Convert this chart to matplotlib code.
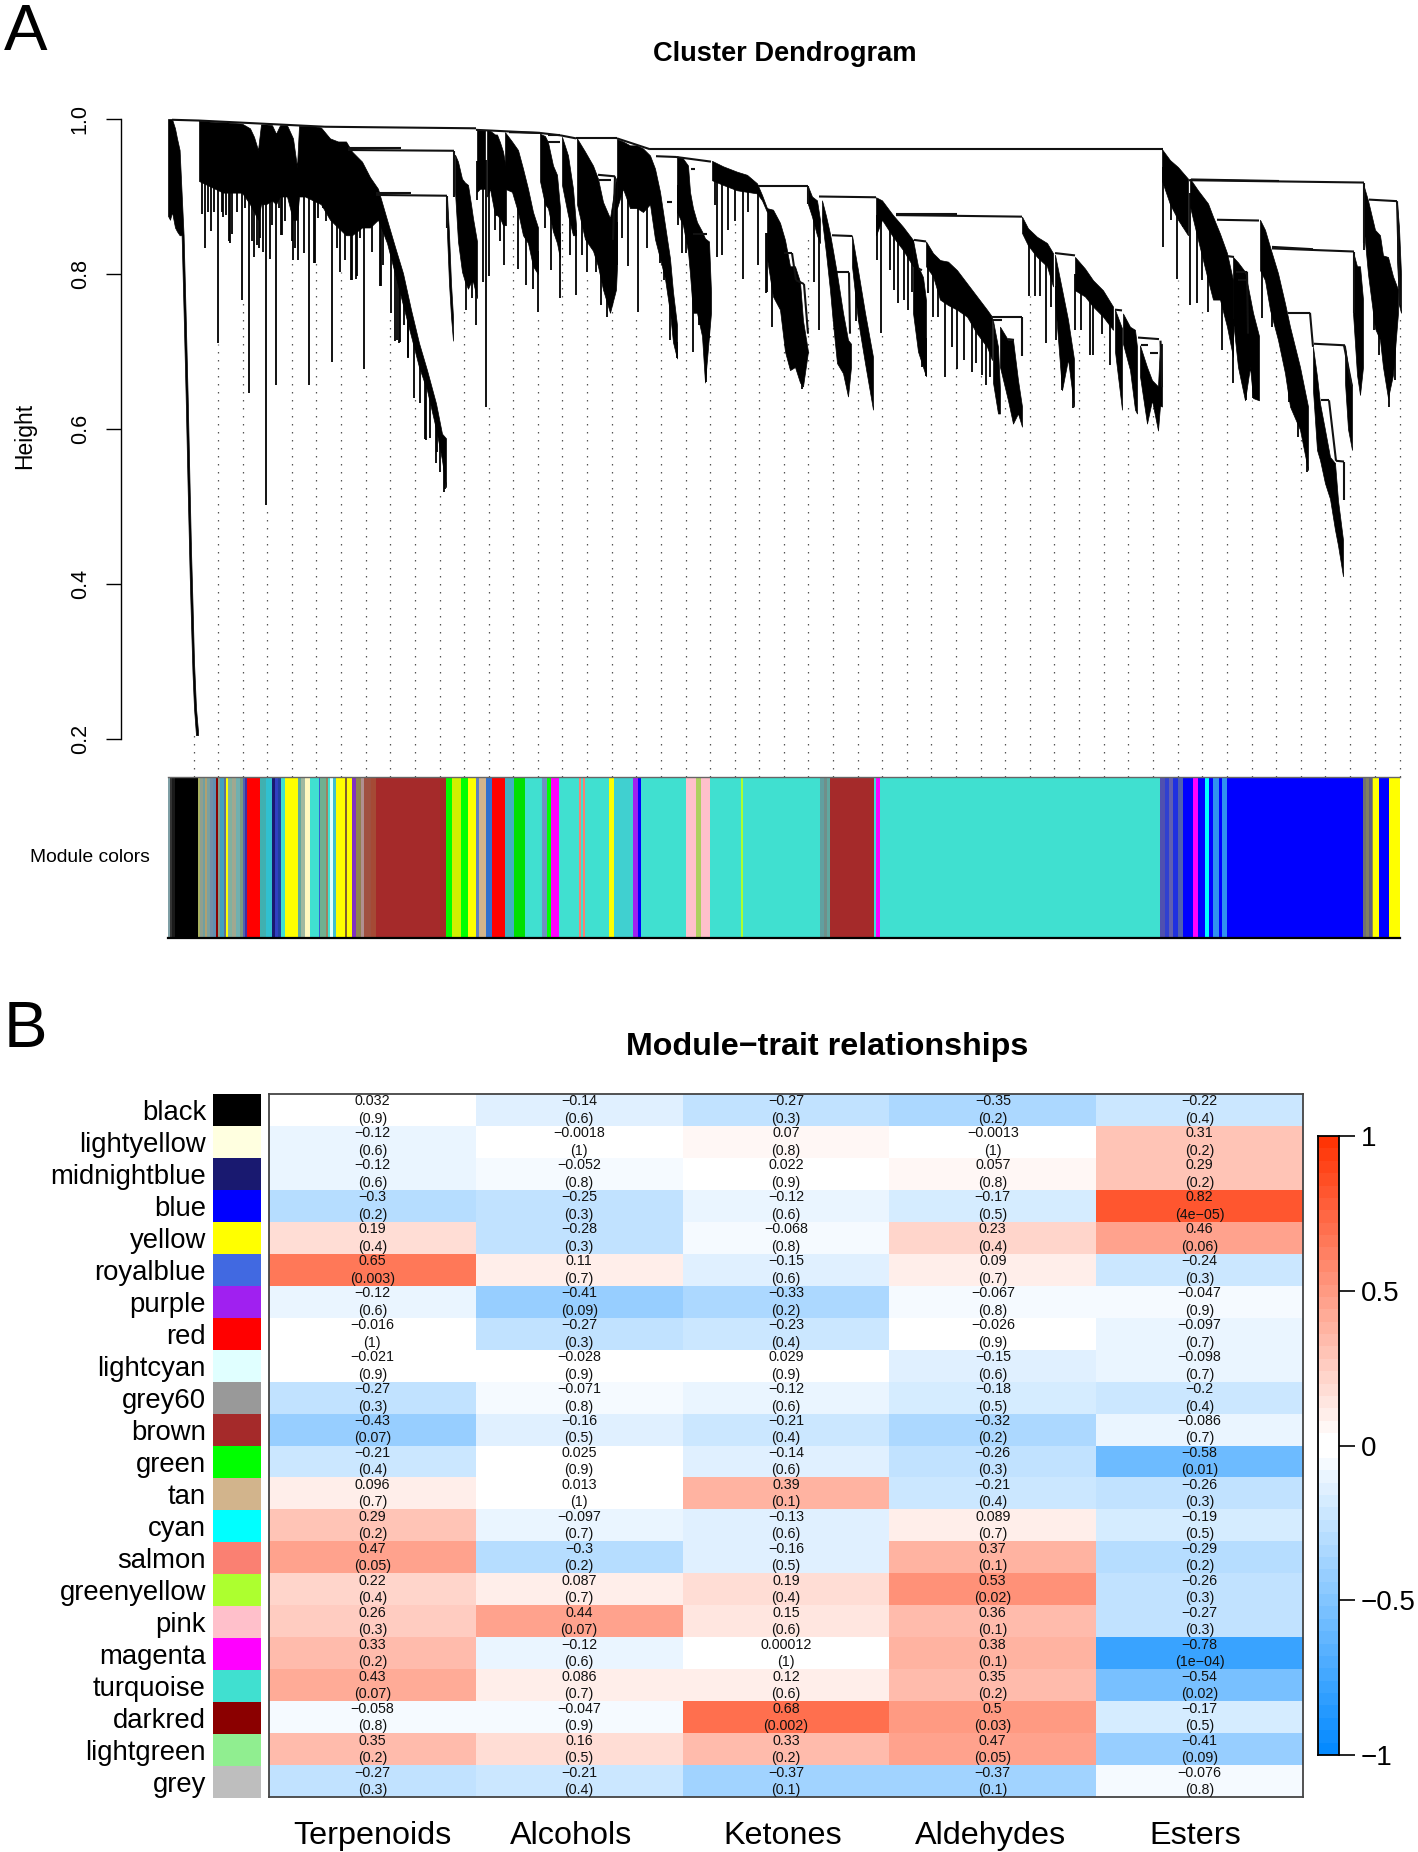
import numpy as np
import matplotlib
matplotlib.use("Agg")
import matplotlib.pyplot as plt
from matplotlib.colors import ListedColormap, BoundaryNorm

plt.rcParams['font.family'] = ['Liberation Sans', 'DejaVu Sans']

W, H = 1418, 1852

# ---------- DATA: heat map ----------
modules = ['black', 'lightyellow', 'midnightblue', 'blue', 'yellow', 'royalblue', 'purple', 'red',
           'lightcyan', 'grey60', 'brown', 'green', 'tan', 'cyan', 'salmon', 'greenyellow', 'pink',
           'magenta', 'turquoise', 'darkred', 'lightgreen', 'grey']
module_hex = ['#000000', '#FFFFE0', '#191970', '#0000FF', '#FFFF00', '#4169E1', '#A020F0', '#FF0000',
              '#E0FFFF', '#999999', '#A52A2A', '#00FF00', '#D2B48C', '#00FFFF', '#FA8072', '#ADFF2F',
              '#FFC0CB', '#FF00FF', '#40E0D0', '#8B0000', '#90EE90', '#BEBEBE']
traits = ['Terpenoids', 'Alcohols', 'Ketones', 'Aldehydes', 'Esters']
trait_label_pos = [0.5, 1.46, 2.485, 3.49, 4.48]

terpenoids_r = ['0.032', '-0.12', '-0.12', '-0.3', '0.19', '0.65', '-0.12', '-0.016', '-0.021', '-0.27', '-0.43',
                '-0.21', '0.096', '0.29', '0.47', '0.22', '0.26', '0.33', '0.43', '-0.058', '0.35', '-0.27']
terpenoids_p = ['0.9', '0.6', '0.6', '0.2', '0.4', '0.003', '0.6', '1', '0.9', '0.3', '0.07',
                '0.4', '0.7', '0.2', '0.05', '0.4', '0.3', '0.2', '0.07', '0.8', '0.2', '0.3']
alcohols_r = ['-0.14', '-0.0018', '-0.052', '-0.25', '-0.28', '0.11', '-0.41', '-0.27', '-0.028', '-0.071', '-0.16',
              '0.025', '0.013', '-0.097', '-0.3', '0.087', '0.44', '-0.12', '0.086', '-0.047', '0.16', '-0.21']
alcohols_p = ['0.6', '1', '0.8', '0.3', '0.3', '0.7', '0.09', '0.3', '0.9', '0.8', '0.5',
              '0.9', '1', '0.7', '0.2', '0.7', '0.07', '0.6', '0.7', '0.9', '0.5', '0.4']
ketones_r = ['-0.27', '0.07', '0.022', '-0.12', '-0.068', '-0.15', '-0.33', '-0.23', '0.029', '-0.12', '-0.21',
             '-0.14', '0.39', '-0.13', '-0.16', '0.19', '0.15', '0.00012', '0.12', '0.68', '0.33', '-0.37']
ketones_p = ['0.3', '0.8', '0.9', '0.6', '0.8', '0.6', '0.2', '0.4', '0.9', '0.6', '0.4',
             '0.6', '0.1', '0.6', '0.5', '0.4', '0.6', '1', '0.6', '0.002', '0.2', '0.1']
aldehydes_r = ['-0.35', '-0.0013', '0.057', '-0.17', '0.23', '0.09', '-0.067', '-0.026', '-0.15', '-0.18', '-0.32',
               '-0.26', '-0.21', '0.089', '0.37', '0.53', '0.36', '0.38', '0.35', '0.5', '0.47', '-0.37']
aldehydes_p = ['0.2', '1', '0.8', '0.5', '0.4', '0.7', '0.8', '0.9', '0.6', '0.5', '0.2',
               '0.3', '0.4', '0.7', '0.1', '0.02', '0.1', '0.1', '0.2', '0.03', '0.05', '0.1']
esters_r = ['-0.22', '0.31', '0.29', '0.82', '0.46', '-0.24', '-0.047', '-0.097', '-0.098', '-0.2', '-0.086',
            '-0.58', '-0.26', '-0.19', '-0.29', '-0.26', '-0.27', '-0.78', '-0.54', '-0.17', '-0.41', '-0.076']
esters_p = ['0.4', '0.2', '0.2', '4e-05', '0.06', '0.3', '0.9', '0.7', '0.7', '0.4', '0.7',
            '0.01', '0.3', '0.5', '0.2', '0.3', '0.3', '1e-04', '0.02', '0.5', '0.09', '0.8']
corr_columns = [terpenoids_r, alcohols_r, ketones_r, aldehydes_r, esters_r]
pval_columns = [terpenoids_p, alcohols_p, ketones_p, aldehydes_p, esters_p]
cbar_ticks = [1, 0.5, 0, -0.5, -1]
cbar_labels = ['1', '0.5', '0', '\u22120.5', '\u22121']

# ---------- DATA: dendrogram (gene position, height) ----------
yticks_h = [0.2, 0.4, 0.6, 0.8, 1.0]

S_x = [168, 170, 172, 175, 177, 179.6, 181.6, 183.6, 185.6, 187.7, 189.7, 191, 192.5, 194, 196, 198]
S_t = [1.0, 1.0, 1.0, .988, .975, .96, .905, .85, .75, .64, .52, .444, .375, .30, .24, .21]
S_b = [.875, .87, .88, .86, .855, .85, .85, .75, .645, .52, .41, .35, .285, .24, .205, .205]

A1_x = [199, 207, 215, 223, 232, 242, 250, 254, 258, 261, 266, 272, 276, 280, 287, 293, 297, 299, 305, 313, 321, 330,
        338, 346, 352, 362, 370, 378, 387, 395, 403, 411, 419, 427, 436, 442, 446]
A1_t = [.998, .997, .996, .996, .995, .994, .988, .977, .960, .993, .993, .992, .981, .992, .992, .975, .938, .991,
        .991, .991, .989, .975, .971, .971, .958, .945, .925, .91, .87, .835, .801, .754, .711, .676, .633, .594, .588]
A1_b = [.92, .915, .91, .905, .905, .905, .89, .88, .87, .89, .89, .895, .89, .90, .90, .87, .87, .90,
        .90, .895, .89, .87, .86, .85, .85, .86, .86, .87, .84, .80, .76, .72, .68, .65, .60, .56, .525]
A1_sx = [205, 211, 218, 223, 230, 242, 249, 254, 259, 266, 276, 281, 293, 298, 309, 315, 332, 340, 351, 356, 364,
         381, 391, 397, 400, 408, 414, 420, 425, 437, 445,
         202, 208, 214, 222, 226, 229, 232, 237, 245, 252, 257, 260, 263, 270, 272, 279, 282, 285, 292, 295,
         304, 314, 318, 323, 326, 337, 345, 352, 357, 360, 372, 380, 383, 395, 399, 404, 408, 426, 430, 436, 440, 444]
A1_sh = [.833, .855, .711, .874, .840, .766, .646, .822, .833, .502, .657, .850, .818, .818, .657, .814, .686, .803,
         .792, .794, .678, .785, .750, .715, .712, .693, .640, .633, .587, .570, .522,
         .878, .880, .880, .880, .876, .842, .852, .880, .885, .842, .837, .846, .829, .820, .863, .885, .850, .868,
         .842, .833, .827, .814, .872, .885, .868, .833, .818, .792, .797, .846, .829, .784, .812, .713, .711, .734,
         .691, .586, .588, .556, .545, .519]

A2_x = [455, 458, 462, 465, 468, 471, 473, 477]
A2_t = [.954, .945, .923, .918, .915, .89, .872, .842]
A2_b = [.906, .842, .803, .79, .781, .79, .79, .769]
A2_sx = [465, 466, 476, 472]
A2_sh = [.797, .754, .734, .769]

A3_x = [447, 449, 451, 453]
A3_t = [.900, .852, .788, .745]
A3_b = [.852, .788, .745, .714]

B1_x = [477, 480, 485]
B1_t = [.986, .986, .985]
B1_b = [.906, .91, .91]
B1_sx = [477, 486, 483]
B1_sh = [.895, .629, .790]

B2_x = [487, 490, 495, 497, 500, 503, 506]
B2_t = [.986, .985, .98, .98, .97, .958, .936]
B2_b = [.90, .91, .876, .876, .872, .863, .863]
B2_sx = [495, 500, 504, 489]
B2_sh = [.857, .842, .811, .797]

B3_x = [505, 512, 518, 523, 528, 533, 538]
B3_t = [.983, .971, .96, .936, .91, .88, .86]
B3_b = [.91, .906, .88, .85, .84, .81, .80]
B3_sx = [518, 526, 538, 533]
B3_sh = [.807, .786, .751, .781]

B4_x = [540, 545, 548, 553, 557, 560]
B4_t = [.981, .978, .97, .94, .928, .885]
B4_b = [.92, .89, .885, .855, .84, .82]
B4_sx = [551, 560, 545]
B4_sh = [.805, .769, .859]

B5_x = [562, 568, 573, 576]
B5_t = [.977, .953, .91, .863]
B5_b = [.915, .876, .85, .85]
B5_sx = [576, 570]
B5_sh = [.773, .824]

B6_x = [577, 585, 593, 598, 603, 610, 616, 617]
B6_t = [.975, .958, .94, .923, .893, .872, .923, .925]
B6_b = [.89, .845, .83, .81, .78, .75, .78, .81]
B6_sx = [582, 587, 596, 601, 607, 612, 617]
B6_sh = [.824, .803, .803, .76, .744, .773, .812]

C_x = [617, 623, 630, 637, 643, 650, 655, 660, 665, 670, 673, 677]
C_t = [.974, .971, .966, .966, .962, .953, .936, .906, .863, .82, .777, .734]
C_b = [.885, .91, .885, .885, .88, .89, .845, .82, .794, .75, .712, .691]
C_sx = [622, 628, 638, 647, 652, 660, 664, 670, 677]
C_sh = [.846, .81, .751, .833, .887, .814, .792, .715, .691]

D_x = [677, 683, 688, 690, 693, 697, 702, 705, 709, 711]
D_t = [.952, .949, .94, .906, .885, .867, .855, .846, .842, .777]
D_b = [.88, .863, .829, .80, .75, .75, .72, .66, .72, .75]
D_sx = [682, 678, 686, 693, 699, 706, 709]
D_sh = [.827, .863, .827, .70, .734, .661, .717]

E_x = [712, 723, 737, 747, 757, 762, 767]
E_t = [.946, .939, .932, .928, .917, .902, .885]
E_b = [.921, .915, .908, .906, .904, .895, .88]
E_sx = [715, 717, 722, 728, 735, 743, 748, 758]
E_sh = [.889, .822, .824, .857, .868, .794, .88, .812]

F_x = [767, 773, 780, 785, 790, 795, 800, 803, 808]
F_t = [.885, .883, .866, .844, .81, .81, .79, .74, .70]
F_b = [.82, .771, .754, .70, .676, .68, .66, .655, .70]
F_sx = [767, 772, 766, 802]
F_sh = [.777, .732, .775, .652]

G1_x = [808, 812, 817, 820]
G1_t = [.913, .90, .895, .87]
G1_b = [.89, .874, .85, .84]
G1_sx = [814, 819]
G1_sh = [.79, .728]

G2_x = [822, 826, 830, 833, 837, 843, 848, 851]
G2_t = [.895, .875, .852, .83, .80, .75, .715, .71]
G2_b = [.87, .827, .779, .736, .685, .672, .642, .68]

G3_x = [852, 858, 865, 873]
G3_t = [.85, .805, .75, .693]
G3_b = [.81, .74, .685, .625]
G3_sx = [856]
G3_sh = [.74]

H1_x = [876, 882, 893, 903, 913]
H1_t = [.899, .895, .876, .861, .844]
H1_b = [.85, .87, .848, .831, .81]
H1_sx = [877, 881, 890, 894, 898, 904, 908, 912]
H1_sh = [.818, .7235, .805, .779, .762, .766, .754, .777]

H2_x = [913, 918, 923, 926]
H2_t = [.844, .81, .796, .766]
H2_b = [.75, .70, .68, .668]
H2_sx = [922, 926]
H2_sh = [.68, .668]

H3_x = [926, 933, 940, 948, 957, 967, 977, 987, 992]
H3_t = [.842, .827, .818, .816, .805, .788, .771, .754, .745]
H3_b = [.81, .797, .767, .76, .754, .745, .723, .706, .689]
H3_sx = [928, 933, 938, 945, 952, 957, 964, 972, 976, 982, 986, 990]
H3_sh = [.775, .745, .745, .667, .706, .678, .689, .674, .685, .670, .657, .667]

H4_x = [993, 998, 1000]
H4_t = [.74, .706, .65]
H4_b = [.66, .62, .62]

H5_x = [1000, 1008, 1013, 1018, 1022]
H5_t = [.732, .715, .715, .663, .629]
H5_b = [.68, .637, .607, .62, .603]

I1_x = [1022, 1028, 1037, 1047, 1053]
I1_t = [.874, .859, .848, .840, .827]
I1_b = [.853, .837, .822, .81, .784]
I1_sx = [1029, 1035, 1040, 1046, 1051]
I1_sh = [.771, .771, .771, .711, .758]

I2_x = [1055, 1062, 1068, 1074]
I2_t = [.825, .78, .741, .69]
I2_b = [.766, .65, .69, .629]
I2_sx = [1062, 1056, 1073]
I2_sh = [.650, .715, .627]

I3_x = [1075, 1085, 1093, 1103, 1113]
I3_t = [.822, .807, .792, .779, .758]
I3_b = [.779, .771, .758, .745, .728]
I3_sx = [1075, 1081, 1090, 1093, 1102, 1110]
I3_sh = [.728, .728, .695, .695, .723, .683]

I4_x = [1115, 1122]
I4_t = [.754, .73]
I4_b = [.70, .625]

I5_x = [1123, 1130, 1135, 1137]
I5_t = [.749, .732, .728, .706]
I5_b = [.71, .676, .625, .62]

I6_x = [1140, 1147, 1152, 1158, 1160, 1162]
I6_t = [.708, .68, .663, .655, .71, .71]
I6_b = [.668, .607, .637, .598, .63, .629]

J1_x = [1162, 1170, 1178, 1188]
J1_t = [.961, .947, .938, .923]
J1_b = [.92, .89, .87, .85]
J1_sx = [1163, 1171, 1177, 1183]
J1_sh = [.835, .870, .794, .861]

J2_x = [1190, 1198, 1208, 1213, 1220, 1227, 1233]
J2_t = [.923, .908, .891, .874, .852, .827, .792]
J2_b = [.887, .844, .792, .767, .767, .732, .693]
J2_sx = [1190, 1197, 1202, 1208, 1222, 1233]
J2_sh = [.760, .762, .792, .751, .702, .659]

J3_x = [1233, 1238, 1245, 1250, 1253, 1259]
J3_t = [.822, .815, .803, .77, .75, .72]
J3_b = [.74, .68, .637, .68, .64, .637]
J3_sx = [1246, 1253, 1258]
J3_sh = [.637, .64, .637]

J4_x = [1260, 1265, 1270, 1278, 1285, 1290, 1300, 1308]
J4_t = [.870, .857, .835, .801, .762, .732, .680, .629]
J4_b = [.805, .792, .754, .715, .672, .629, .599, .547]
J4_sx = [1262, 1268, 1272, 1289, 1298, 1307]
J4_sh = [.743, .784, .732, .635, .590, .544]

J6_x = [1313, 1317, 1320, 1325, 1330, 1335, 1338, 1343]
J6_t = [.706, .668, .633, .599, .564, .556, .508, .457]
J6_b = [.65, .573, .56, .53, .51, .47, .45, .41]

J7_x = [1345, 1348, 1352]
J7_t = [.708, .680, .655]
J7_b = [.66, .60, .573]

J8_x = [1353, 1357, 1360, 1363]
J8_t = [.829, .81, .81, .767]
J8_b = [.75, .67, .644, .68]

K1_x = [1363, 1368, 1375, 1380, 1383, 1388, 1393, 1398]
K1_t = [.917, .895, .857, .85, .824, .822, .797, .78]
K1_b = [.87, .80, .73, .715, .68, .64, .67, .75]
K1_sx = [1364, 1374, 1379, 1389, 1395]
K1_sh = [.831, .728, .696, .629, .663]

K2_x = [1397, 1399, 1401]
K2_t = [.893, .86, .80]
K2_b = [.82, .76, .75]

clusters = [
    (S_x, S_t, S_b, [], []), (A1_x, A1_t, A1_b, A1_sx, A1_sh), (A2_x, A2_t, A2_b, A2_sx, A2_sh),
    (A3_x, A3_t, A3_b, [], []), (B1_x, B1_t, B1_b, B1_sx, B1_sh), (B2_x, B2_t, B2_b, B2_sx, B2_sh),
    (B3_x, B3_t, B3_b, B3_sx, B3_sh), (B4_x, B4_t, B4_b, B4_sx, B4_sh), (B5_x, B5_t, B5_b, B5_sx, B5_sh),
    (B6_x, B6_t, B6_b, B6_sx, B6_sh), (C_x, C_t, C_b, C_sx, C_sh),
    (D_x, D_t, D_b, D_sx, D_sh), (E_x, E_t, E_b, E_sx, E_sh), (F_x, F_t, F_b, F_sx, F_sh),
    (G1_x, G1_t, G1_b, G1_sx, G1_sh), (G2_x, G2_t, G2_b, [], []), (G3_x, G3_t, G3_b, G3_sx, G3_sh),
    (H1_x, H1_t, H1_b, H1_sx, H1_sh), (H2_x, H2_t, H2_b, H2_sx, H2_sh), (H3_x, H3_t, H3_b, H3_sx, H3_sh),
    (H4_x, H4_t, H4_b, [], []), (H5_x, H5_t, H5_b, [], []), (I1_x, I1_t, I1_b, I1_sx, I1_sh),
    (I2_x, I2_t, I2_b, I2_sx, I2_sh), (I3_x, I3_t, I3_b, I3_sx, I3_sh), (I4_x, I4_t, I4_b, [], []),
    (I5_x, I5_t, I5_b, [], []), (I6_x, I6_t, I6_b, [], []),
    (J1_x, J1_t, J1_b, J1_sx, J1_sh), (J2_x, J2_t, J2_b, J2_sx, J2_sh), (J3_x, J3_t, J3_b, J3_sx, J3_sh),
    (J4_x, J4_t, J4_b, J4_sx, J4_sh), (J6_x, J6_t, J6_b, [], []),
    (J7_x, J7_t, J7_b, [], []), (J8_x, J8_t, J8_b, [], []), (K1_x, K1_t, K1_b, K1_sx, K1_sh),
    (K2_x, K2_t, K2_b, [], []),
]

# merge lines: x0, x1, h0, h1
branch_x0 = [172, 199, 325, 476, 540, 560, 576, 617, 509, 548, 548, 598, 615, 599, 348, 348, 454, 376, 376, 447, 650,
             656, 676, 691, 693, 667, 758, 784, 792, 796, 804, 808, 819, 832, 837, 849, 896, 896, 914, 918, 991, 1022,
             992, 1008, 1055, 1115, 1138, 1141, 1150, 1160.5, 1189, 1191, 1217, 1228, 1236, 1238, 1247, 1272, 1272,
             1288, 1310, 1314, 1321, 1329, 1336, 1344, 1344, 1369, 1354, 1364, 1397]
branch_x1 = [199, 325, 476, 540, 560, 576, 617, 650, 540, 560, 560, 615, 613, 611, 454, 401, 454, 447, 411, 447, 1163,
             676, 711, 695, 707, 672, 808, 792, 796, 804, 808, 808, 876, 852, 849, 850, 1022, 957, 926, 922, 1022, 1022,
             1002, 1014, 1075, 1122, 1159, 1148, 1158, 1162, 1364, 1279, 1259, 1234, 1247, 1246, 1248, 1354, 1313,
             1310, 1313, 1345, 1329, 1336, 1344, 1344, 1352, 1397, 1354, 1364, 1400]
branch_h0 = [.999, .998, .990, .986, .982, .979, .975, .975, .983, .980, .970, .928, .926, .921, .960, .962, .959, .902,
             .905, .901, .961, .952, .951, .936, .852, .893, .9135, .827, .827, .792, .787, .9135, .900, .850, .802, .802,
             .876, .878, .844, .807, .745, .745, .741, .716, .827, .754, .718, .708, .698, .714, .921, .922, .870, .823,
             .803, .792, .803, .833, .835, .750, .750, .710, .637, .637, .559, .558, .708, .896, .829, .918, .894]
branch_h1 = [.998, .990, .988, .982, .979, .975, .975, .961, .982, .980, .970, .926, .844, .921, .959, .962, .90, .901,
             .905, .86, .961, .951, .945, .936, .852, .893, .9135, .827, .792, .787, .723, .89, .899, .849, .802, .723,
             .874, .878, .842, .805, .745, .694, .741, .715, .824, .753, .716, .708, .698, .654, .918, .920, .869, .822,
             .803, .792, .723, .829, .832, .750, .706, .708, .637, .559, .558, .508, .655, .894, .75, .84, .76]

guide_x = [194, 218, 243, 267, 292, 316, 341, 366, 390, 415, 440, 464, 489, 513, 538, 562, 587, 612, 636, 661, 686, 710,
           735, 759, 784, 808, 833, 858, 882, 907, 931, 956, 981, 1005, 1030, 1054, 1079, 1104, 1128, 1153, 1178, 1202,
           1227, 1252, 1276, 1301, 1325, 1350, 1375, 1400]
guide_h = [.21, .71, .767, .502, .818, .814, .803, .678, .749, .642, .521, .754, .629, .883, .749, .874, .80, .766, .749,
           .831, .822, .7235, .874, .81, .745, .85, .758, .741, .7235, .75, .745, .68, .672, .6375, .771, .71, .728, .72,
           .629, .629, .792, .758, .702, .6375, .702, .59, .508, .573, .698, .7495]

# ---------- DATA: module colour band ----------
band_edges = [168.4, 170, 172, 175.3, 198, 200, 203, 205, 207, 210, 213, 216, 218, 220, 224, 226, 228, 232, 236, 240,
              243, 245, 247, 260, 266, 271.6, 275, 278, 280.6, 284.6, 297.7, 301, 305, 310, 319, 320, 326, 328, 330,
              333, 335.6, 345, 347, 351.6, 356, 361, 364, 371, 375.6, 445.8, 452.3, 461, 467.8, 476.4, 478.9, 486.2,
              492, 505, 514.3, 525.4, 541.7, 546.6, 550.7, 559.2, 579.2, 581, 583.5, 585.3, 609, 613.9, 632.7, 638.4,
              640.8, 686.5, 696, 701, 709.8, 740.8, 743.2, 820, 824, 827, 830.5, 874.4, 876, 880.5, 1160.5, 1165, 1169,
              1173, 1178, 1183, 1193, 1198, 1205.3, 1209.4, 1213.5, 1218.7, 1221.6, 1227, 1363, 1366, 1369, 1372,
              1373.4, 1379, 1389.3, 1400]
band_colors = ['#7F9FA5', '#333333', '#1A1A1A', '#000000', '#A8B060', '#8F9F90', '#70A0A0', '#B0A070', '#7AA0A0',
               '#7090A8', '#6090B0', '#8B0000', '#80A090', '#40A0C0', '#607090', '#FFFF00', '#80B0A0', '#A0A890',
               '#70B0B0', '#7A9A80', '#5060B0', '#4030A0', '#FF0000', '#40B0B0', '#30C0D0', '#191970', '#3040C0',
               '#2040A0', '#40E0D0', '#FFFF00', '#60A8A0', '#A0B8A0', '#FFF8C0', '#40E0D0', '#3060D0', '#70B090',
               '#A08060', '#40E0D0', '#E0FFFF', '#40C0D0', '#FFFF00', '#806030', '#FFFF00', '#8030C0', '#908050',
               '#B09090', '#A05040', '#A54A35', '#A52A2A', '#00FF00', '#D0F000', '#00FF00', '#FFFF00', '#6080C0',
               '#D2B48C', '#3070D0', '#FF0000', '#40B0C0', '#00E000', '#40E0D0', '#7090C0', '#00FF00', '#FF00FF',
               '#40E0D0', '#FA8072', '#40E0D0', '#FA8072', '#40E0D0', '#FFFF00', '#40D0D0', '#A020F0', '#0000FF',
               '#40E0D0', '#FFC0CB', '#ADD060', '#FFC0CB', '#40E0D0', '#ADFF2F', '#40E0D0', '#60A0A0', '#708F8A',
               '#60A8A0', '#A52A2A', '#40E0D0', '#FF00FF', '#40E0D0', '#5050B0', '#3040D0', '#6060B0', '#2030E0',
               '#5060B0', '#0000FF', '#FF00FF', '#0000FF', '#00FFFF', '#0000FF', '#3090F0', '#0000FF', '#3090F0',
               '#0000FF', '#707070', '#808060', '#606080', '#909050', '#FFFF00', '#0000FF', '#FFFF00']

# ---------- helpers ----------
fig = plt.figure(figsize=(W / 100, H / 100), dpi=100)


def box(left, top, right, bottom):
    return [left / W, 1 - bottom / H, (right - left) / W, (bottom - top) / H]


def fx(x):
    return x / W


def fy(y):
    return 1 - y / H


# ---------- Panel A: dendrogram ----------
ax = fig.add_axes(box(121, 119, 1402, 777))
ax.set_xlim(121, 1402)
ax.set_ylim(1 - 658 / 775, 1.0)
ax.patch.set_alpha(0)
for s in ['top', 'right', 'bottom']:
    ax.spines[s].set_visible(False)
ax.spines['left'].set_bounds(0.2, 1.0)
ax.spines['left'].set_linewidth(1.0)
ax.set_xticks([])
ax.set_yticks(yticks_h)
ax.set_yticklabels([f'{v:.1f}' for v in yticks_h], rotation=90, va='center', fontsize=15.5)
ax.tick_params(axis='y', length=10.8, width=1.0, pad=11)
ax.set_ylabel('Height', fontsize=16.5)
ax.yaxis.set_label_coords(-85 / 1281, 1 - (436 - 119) / 658)

ax.vlines(guide_x, 1 - 658 / 775, guide_h, colors='#555555', linewidth=0.9, linestyles=(0, (1.2, 5.2)), zorder=1)

for cx, ct, cb, sx, sh in clusters:
    ax.fill_between(cx, cb, ct, color='black', linewidth=0.5, zorder=3, clip_on=False)
    if len(sx):
        s_top = (np.interp(sx, cx, ct) + np.interp(sx, cx, cb)) / 2
        ax.vlines(sx, sh, s_top, colors='black', linewidth=1.3, zorder=3)

for x0, x1, h0, h1 in zip(branch_x0, branch_x1, branch_h0, branch_h1):
    ax.plot([x0, x1], [h0, h1], color='#111111', linewidth=1.5, solid_capstyle='butt', zorder=3, clip_on=False)

fig.text(fx(785), fy(54), 'Cluster Dendrogram', fontsize=19.6, fontweight='bold', ha='center', va='center')
fig.text(fx(4), fy(33), 'A', fontsize=47, ha='left', va='center')
fig.text(fx(4), fy(1030), 'B', fontsize=47, ha='left', va='center')

# ---------- Module colours ----------
axb = fig.add_axes(box(168.4, 777, 1400, 938))
axb.set_xlim(168.4, 1400)
axb.set_ylim(0, 1)
band_left = np.array(band_edges[:-1])
band_width = np.diff(band_edges)
axb.bar(band_left, 1, band_width, align='edge', color=band_colors, linewidth=0)
axb.set_xticks([])
axb.set_yticks([])
for s in ['left', 'right']:
    axb.spines[s].set_visible(False)
axb.spines['top'].set_color('#666666')
axb.spines['top'].set_linewidth(1.0)
axb.spines['bottom'].set_color('black')
axb.spines['bottom'].set_linewidth(1.6)
fig.text(fx(150), fy(857), 'Module colors', fontsize=13.9, ha='right', va='center')

# ---------- Panel B: heat map ----------
corr = np.array([[float(v) for v in col] for col in corr_columns]).T
bounds = np.linspace(-1, 1, 51)
mid = (bounds[:-1] + bounds[1:]) / 2
shade = np.clip(np.abs(mid) - 0.02, 0, 1) / 0.98
neg_end, pos_end = np.array([0, 136, 255]) / 255, np.array([255, 48, 0]) / 255
cm_list = [tuple(1 + (np.where(m < 0, neg_end, pos_end) - 1) * t) for m, t in zip(mid, shade)]
cmap = ListedColormap(cm_list)
norm = BoundaryNorm(bounds, cmap.N)

axh = fig.add_axes(box(269, 1094, 1303, 1797))
axh.pcolormesh(np.arange(6), np.arange(23), corr, cmap=cmap, norm=norm, linewidth=0, rasterized=True)
axh.set_xlim(0, 5)
axh.set_ylim(22, 0)
axh.set_yticks([])
axh.set_xticks(trait_label_pos)
axh.set_xticklabels(traits, fontsize=23.3)
axh.tick_params(axis='x', length=0, pad=17)
for s in axh.spines.values():
    s.set_color('#444444')
    s.set_linewidth(1.3)
for j in range(5):
    for i in range(22):
        r = corr_columns[j][i].replace('-', '\u2212')
        p = pval_columns[j][i].replace('-', '\u2212')
        axh.text(j + 0.5, i + 0.234, r, ha='center', va='center', fontsize=10.3, color='#111111')
        axh.text(j + 0.5, i + 0.78, f'({p})', ha='center', va='center', fontsize=10.3, color='#111111')

fig.text(fx(827), fy(1046.5), 'Module\u2212trait relationships', fontsize=23.2, fontweight='bold',
         ha='center', va='center')

axs = fig.add_axes(box(213.5, 1093.5, 261, 1797.5))
axs.barh(np.arange(22) + 0.5, 1, 1, left=0, color=module_hex, linewidth=0)
axs.set_xlim(0, 1)
axs.set_ylim(22, 0)
axs.set_xticks([])
axs.set_yticks(np.arange(22) + 0.5)
axs.set_yticklabels(modules, fontsize=19.8)
axs.tick_params(axis='y', length=0, pad=5.4)
for s in axs.spines.values():
    s.set_visible(False)

# ---------- Colour bar ----------
axc = fig.add_axes(box(1317.5, 1136, 1339, 1755))
axc.pcolormesh([0, 1], bounds, mid[:, None], cmap=cmap, norm=norm, linewidth=0, rasterized=True)
axc.set_xlim(0, 1)
axc.set_ylim(-1, 1)
axc.set_xticks([])
axc.yaxis.tick_right()
axc.set_yticks(cbar_ticks)
axc.set_yticklabels(cbar_labels, fontsize=20)
axc.tick_params(axis='y', length=11.5, width=1.2, pad=4)
for s in axc.spines.values():
    s.set_linewidth(1.3)

fig.savefig('out.png', dpi=100, facecolor='white')
